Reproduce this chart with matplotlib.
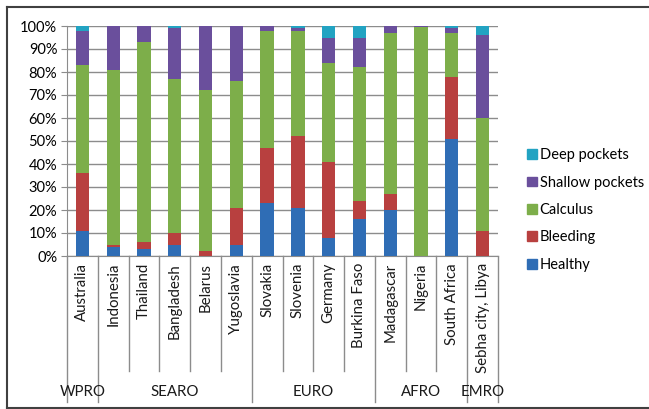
import numpy as np
import matplotlib.pyplot as plt
from matplotlib.patches import Patch
from matplotlib.lines import Line2D

plt.rcParams['font.family'] = ['Lato', 'DejaVu Sans']

# data (percent of subjects by CPI score)
countries = ['Australia', 'Indonesia', 'Thailand', 'Bangladesh', 'Belarus', 'Yugoslavia',
             'Slovakia', 'Slovenia', 'Germany', 'Burkina Faso', 'Madagascar', 'Nigeria',
             'South Africa', 'Sebha city, Libya']
regions = ['WPRO', 'SEARO', 'EURO', 'AFRO', 'EMRO']
region_sizes = [1, 5, 4, 3, 1]
healthy = [11, 4, 3, 5, 0, 5, 23, 21, 8, 16, 20, 0, 51, 0]
bleeding = [25, 1, 3, 5, 2, 16, 24, 31, 33, 8, 7, 0, 27, 11]
calculus = [47, 76, 87, 67, 70, 55, 51, 46, 43, 58, 70, 99.6, 19, 49]
shallow = [15, 19, 7, 22, 28, 24, 2, 1, 11, 13, 3, 0.4, 2, 36]
deep = [2, 0, 0, 1, 0, 0, 0, 1, 5, 5, 0, 0, 1, 4]

series = [('Healthy', healthy, '#2f6db5'),
          ('Bleeding', bleeding, '#b8403f'),
          ('Calculus', calculus, '#7dae4a'),
          ('Shallow pockets', shallow, '#6a4f9c'),
          ('Deep pockets', deep, '#22a3c2')]

fig = plt.figure(figsize=(6.49, 4.09), dpi=100)
W, H = 649, 409
ax = fig.add_axes([67 / W, 1 - 256 / H, (498 - 67) / W, (256 - 26) / H])

x = np.arange(len(countries))
tot = np.array(healthy) + np.array(bleeding) + np.array(calculus) + np.array(shallow) + np.array(deep)
bottom = np.zeros(len(countries))
handles = []
for name, vals, col in series:
    pct = np.array(vals, dtype=float) / tot * 100
    ax.bar(x, pct, 0.43, bottom=bottom, color=col, zorder=3)
    bottom += pct
    handles.append(Patch(color=col, label=name))

ax.set_xlim(-0.5, len(countries) - 0.5)
ax.set_ylim(0, 100)
ax.set_yticks(np.arange(0, 101, 10))
ax.set_yticklabels([f'{t}%' for t in range(0, 101, 10)], fontsize=10.5)
ax.yaxis.grid(True, color='#8c8c8c', linewidth=1)
ax.set_axisbelow(True)
ax.tick_params(axis='y', length=4, color='#8c8c8c', pad=3)
ax.set_xticks([])
for s in ['top', 'right']:
    ax.spines[s].set_visible(False)
ax.spines['left'].set_color('#8c8c8c')
ax.spines['bottom'].set_color('#8c8c8c')

# category labels and separators
trans = ax.get_xaxis_transform()
for i, c in enumerate(countries):
    ax.text(i, -0.03, c, rotation=90, ha='center', va='top', fontsize=10.8,
            transform=trans, color='#1a1a1a')

bounds = np.cumsum([0] + region_sizes) - 0.5
y_inner = -(371 - 256) / 230
y_outer = -(402 - 256) / 230
for i in range(len(countries) + 1):
    xb = i - 0.5
    yb = y_outer if xb in bounds else y_inner
    ax.add_line(Line2D([xb, xb], [0, yb], transform=trans, color='#8c8c8c',
                       linewidth=1, clip_on=False))

y_reg = -(392 - 256) / 230
for r, a, b in zip(regions, bounds[:-1], bounds[1:]):
    ax.text((a + b) / 2, y_reg, r, ha='center', va='center', fontsize=10.8,
            transform=trans, color='#1a1a1a')

ax.legend(handles[::-1], [h.get_label() for h in handles[::-1]],
          loc='center left', bbox_to_anchor=(514 / W, 1 - 210 / H),
          bbox_transform=fig.transFigure, frameon=False, fontsize=10.5,
          handlelength=0.65, handleheight=0.65, handletextpad=0.2,
          labelspacing=0.92)

# chart area border
for xs, ys in [([7, 7], [7, 408]), ([7, W], [7, 7]), ([7, W], [408, 408])]:
    fig.add_artist(Line2D([v / W for v in xs], [1 - v / H for v in ys],
                          color='#404040', linewidth=1.5))

fig.savefig('out.png', dpi=100)
